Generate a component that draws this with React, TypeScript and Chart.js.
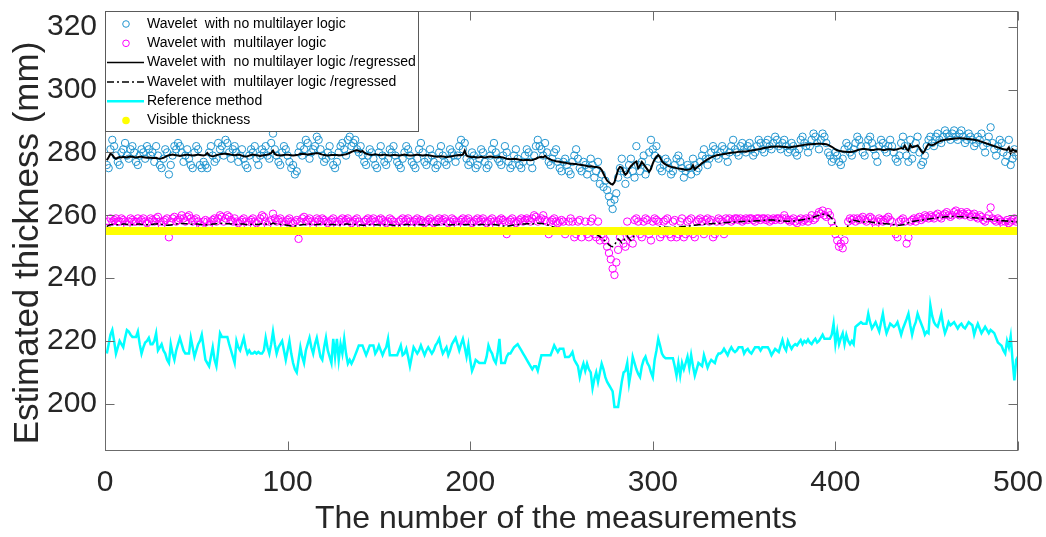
import { useEffect, useRef } from 'react';
import { Chart, registerables } from 'chart.js';

Chart.register(...registerables);

// ---- axis ticks ----
const MEASUREMENT_TICKS = [0, 100, 200, 300, 400, 500];
const THICKNESS_TICKS = [200, 220, 240, 260, 280, 300, 320];

// ---- series (thickness in mm, one value per measurement, starting at measurement 1) ----
const WAVELET_NO_MULTILAYER = [
  276, 275, 281, 284, 282, 279, 277, 276, 280, 281, 283, 279, 278, 281, 282, 280, 277, 276, 279, 281, 280, 278, 282, 281, 279,
  280, 277, 282, 279, 276, 275, 278, 281, 280, 273, 276, 279, 282, 281, 283, 282, 280, 277, 279, 281, 278, 276, 275, 280, 282,
  281, 276, 275, 277, 276, 275, 280, 282, 279, 277, 278, 283, 281, 282, 279, 284, 283, 280, 278, 281, 282, 280, 277, 279, 281,
  278, 276, 275, 279, 281, 280, 282, 278, 276, 279, 281, 280, 282, 279, 278, 283, 286, 281, 279, 277, 276, 280, 282, 281, 279,
  277, 275, 276, 273, 274, 280, 282, 279, 281, 284, 283, 278, 280, 281, 282, 285, 284, 281, 279, 277, 278, 280, 282, 279, 276,
  275, 277, 280, 282, 283, 281, 279, 284, 285, 282, 283, 284, 281, 280, 282, 279, 277, 276, 279, 281, 280, 278, 276, 275, 280,
  282, 279, 277, 276, 278, 281, 280, 282, 279, 277, 276, 275, 278, 280, 282, 281, 279, 277, 276, 275, 278, 281, 283, 280, 277,
  276, 278, 281, 279, 277, 275, 276, 280, 282, 279, 277, 276, 278, 281, 280, 279, 277, 279, 282, 284, 281, 283, 278, 276, 277,
  280, 279, 275, 276, 278, 281, 280, 277, 275, 276, 279, 281, 283, 280, 278, 277, 276, 279, 282, 280, 277, 275, 276, 279, 281,
  278, 276, 275, 277, 279, 281, 280, 277, 275, 279, 282, 284, 282, 281, 279, 283, 280, 277, 276, 278, 280, 281, 277, 275, 274,
  277, 278, 276, 274, 273, 277, 279, 281, 278, 275, 274, 277, 276, 273, 275, 278, 276, 272, 274, 277, 270, 273, 269, 271, 268,
  266, 264, 262, 265, 267, 272, 275, 278, 274, 270, 273, 276, 278, 274, 272, 282, 276, 274, 277, 279, 273, 275, 280, 284, 281,
  279, 282, 278, 275, 274, 276, 278, 277, 275, 273, 274, 276, 278, 279, 277, 275, 272, 274, 276, 275, 273, 278, 276, 274, 275,
  277, 279, 281, 278, 276, 278, 280, 282, 281, 279, 278, 280, 282, 281, 279, 277, 280, 282, 284, 281, 280, 279, 282, 283, 281,
  280, 282, 283, 281, 279, 280, 282, 284, 283, 281, 280, 283, 284, 282, 281, 283, 285, 284, 282, 281, 283, 284, 282, 280, 281,
  283, 282, 280, 279, 281, 284, 285, 283, 282, 280, 282, 284, 286, 285, 283, 281, 284, 286, 285, 283, 280, 279, 277, 278, 280,
  279, 277, 276, 278, 281, 283, 282, 280, 279, 281, 283, 285, 284, 282, 280, 279, 282, 284, 285, 283, 281, 279, 277, 282, 284,
  283, 281, 280, 282, 284, 282, 280, 278, 277, 279, 283, 285, 282, 279, 277, 284, 278, 281, 283, 285, 280, 276, 277, 279, 282,
  284, 285, 283, 282, 285, 286, 284, 283, 285, 287, 286, 285, 284, 286, 287, 285, 284, 286, 287, 285, 283, 284, 286, 285, 284,
  282, 283, 285, 284, 286, 282, 280, 283, 285, 288, 283, 281, 279, 282, 284, 283, 280, 277, 279, 284, 276, 278, 281, 279, 280,
];

const WAVELET_MULTILAYER = [
  256, 258, 259, 258, 258.5, 259, 258, 258, 259, 258.5, 258, 257, 258, 259, 258.5, 258, 258, 259, 258, 258.5, 259, 258, 257.5, 258, 259,
  258.5, 258, 259, 259.5, 258, 257, 258, 258.5, 259, 253, 258, 259, 259.5, 258, 258.5, 259, 260, 259, 258, 259.5, 260, 259, 258, 258.5, 259,
  258, 257, 256, 258, 258.5, 258, 257, 258, 258.5, 259, 258, 259, 260, 259.5, 258, 259, 260, 259.5, 258.5, 258, 259, 258, 257.5, 258, 258.5,
  259, 258, 257, 258, 258.5, 259, 258, 257.5, 258, 259, 260, 259.5, 258, 257, 258, 258.5, 260.5, 259, 258, 258.5, 259, 258, 257, 258, 258.5,
  259, 258, 257.5, 258, 258.5, 252.5, 258, 259, 259.5, 258, 258.5, 259, 258, 257, 258, 259, 258.5, 258, 259, 258.5, 258, 257.5, 258, 258.5, 259,
  258, 257, 258, 258.5, 259, 258, 258.5, 259, 258, 257.5, 258, 258.5, 259, 258, 257, 256, 258, 258.5, 259, 258, 258.5, 259, 258, 257, 258.5,
  259, 258.5, 258, 257.5, 258, 259, 258.5, 258, 257, 256, 258, 258.5, 259, 258, 258.5, 259, 258, 257, 258, 258.5, 259, 258, 258.5, 258, 257.5,
  258, 258.5, 259, 258, 257.5, 258, 258.5, 259, 258, 258.5, 259, 258, 257.5, 258, 259, 258.5, 258, 257, 258, 258.5, 259, 258, 258.5, 259, 258,
  257.5, 258, 258.5, 259, 258, 258.5, 259, 258, 257.5, 258, 258.5, 259, 258, 257, 258, 258.5, 259, 258.5, 258, 254, 258, 258.5, 259, 258, 257.5,
  258, 258.5, 259, 258, 258.5, 259, 258.5, 258, 259, 260, 259.5, 258, 258.5, 259, 260, 258.5, 258, 254, 258, 258.5, 259, 258, 257.5, 258, 258.5,
  258, 254, 255, 258, 259, 258, 253, 254, 258, 258.5, 253, 255, 258, 254, 253, 258, 259, 254, 253, 258, 252, 254, 253, 252, 250,
  248, 246, 243, 241, 245, 249, 253, 255, 251, 250, 258, 254, 253, 251, 258.5, 259, 258, 254, 253, 258, 259, 258.5, 254, 252, 258,
  259, 258.5, 258, 253, 254, 258, 258.5, 259, 254, 253, 258, 258.5, 253, 254, 258, 259, 253, 254, 258, 258.5, 259, 254, 253, 258, 258.5,
  259, 258, 254, 258.5, 259, 258, 258.5, 253, 254, 258, 259, 258.5, 258, 254, 259, 258.5, 259, 258, 258.5, 259, 259, 258.5, 259, 258, 258.5,
  259, 258.5, 259, 259, 258.5, 258, 259, 259, 258.5, 259, 259, 258.5, 259, 258, 258.5, 259, 258.5, 259, 259, 258.5, 259, 260, 259, 258.5, 258,
  258.5, 259, 258, 257.5, 258.5, 259, 258, 258.5, 259, 258, 259, 260, 258.5, 259, 260, 261, 260.5, 261.5, 260, 259.5, 261, 260, 258, 256, 254,
  252, 250, 251, 249.5, 252, 255, 258, 259, 258.5, 259, 258, 259, 258.5, 259, 259.5, 258.5, 258, 259, 259.5, 259, 258, 257, 258, 259, 258.5,
  258, 258.5, 259, 259.5, 258.5, 258, 256, 254, 253, 258, 258.5, 259, 258, 251, 253, 258, 258.5, 259, 258, 259, 259.5, 258.5, 259, 260, 259.5,
  259, 260, 259.5, 259, 260, 260.5, 259.5, 259, 260, 260.5, 261, 260, 259.5, 260, 261, 261.5, 260.5, 260, 261, 260.5, 260, 261, 260.5, 259.5, 260,
  260.5, 259.5, 259, 260, 259.5, 258.5, 258, 259, 260, 262.5, 259, 258.5, 258, 259, 258.5, 258, 257, 258, 258.5, 257.5, 258, 258.5, 259, 258, 258.5,
];

const WAVELET_NO_MULTILAYER_REGRESSED = [
  277.5, 278.5, 279.6, 279.2, 278.4, 278.0, 278.3, 278.5, 278.4, 278.6, 278.5, 278.4, 278.6, 278.7, 278.6, 278.5, 278.4, 278.5, 278.6, 278.6, 278.5, 278.4, 278.3, 278.4, 278.3,
  278.2, 278.2, 278.3, 278.1, 278.0, 278.1, 278.3, 278.6, 278.9, 279.1, 279.2, 279.3, 279.2, 279.1, 279.0, 278.9, 279.0, 279.1, 279.2, 279.3, 279.2, 279.1, 279.0, 279.1, 279.2,
  279.3, 279.2, 279.1, 279.0, 279.2, 279.8, 279.1, 278.9, 278.8, 278.9, 279.1, 279.3, 279.4, 279.5, 279.6, 279.6, 279.5, 279.4, 279.3, 279.2, 279.1, 279.2, 279.3, 279.2, 279.0,
  278.8, 278.7, 278.8, 279.0, 279.2, 279.3, 279.2, 279.1, 279.0, 278.9, 279.0, 279.1, 279.2, 279.3, 279.5, 279.8, 280.6, 279.5, 279.2, 279.1, 279.0, 279.1, 279.2, 279.3, 279.3,
  279.2, 279.1, 279.0, 279.1, 279.2, 279.3, 279.5, 279.6, 279.5, 279.4, 279.3, 279.4, 279.5, 279.6, 279.7, 279.8, 279.7, 279.5, 279.3, 279.2, 279.1, 279.0, 279.1, 279.2, 279.2,
  279.2, 279.2, 279.1, 279.1, 279.2, 279.3, 279.4, 279.6, 279.9, 280.2, 280.4, 280.6, 280.7, 280.5, 280.2, 280.5, 279.9, 279.6, 279.4, 279.3, 279.2, 279.3, 279.4, 279.3, 279.2,
  279.1, 279.2, 279.3, 279.2, 279.1, 279.0, 279.1, 279.2, 279.2, 279.1, 279.0, 279.1, 279.2, 279.3, 279.2, 279.1, 279.0, 279.0, 279.1, 279.2, 279.3, 279.2, 279.1, 279.0, 279.1,
  279.2, 279.1, 279.0, 278.9, 278.8, 278.7, 278.6, 278.7, 278.8, 278.7, 278.6, 278.5, 278.6, 278.7, 278.8, 278.9, 279.0, 279.1, 279.2, 279.1, 279.3, 280.6, 279.0, 278.7, 278.6,
  278.5, 278.6, 278.5, 278.4, 278.5, 278.6, 278.5, 278.4, 278.5, 278.6, 278.7, 278.6, 278.5, 278.4, 278.5, 278.6, 278.5, 278.4, 278.2, 278.0, 277.9, 277.8, 277.9, 278.0, 277.9,
  277.8, 277.7, 277.6, 277.5, 277.6, 277.7, 277.6, 277.5, 277.6, 277.8, 278.0, 278.3, 278.5, 278.6, 278.4, 278.9, 278.3, 278.0, 277.7, 277.5, 277.4, 277.2, 277.1, 277.0, 276.9,
  276.8, 276.7, 276.6, 276.5, 276.4, 276.4, 276.3, 276.3, 276.2, 276.1, 276.0, 275.9, 275.8, 275.7, 275.5, 275.6, 275.5, 275.4, 275.4, 275.3, 275.1, 274.4, 273.2, 272.0, 271.0,
  270.5, 270.0, 269.8, 270.5, 272.5, 274.5, 275.4, 275.2, 273.8, 272.9, 273.5, 274.8, 275.6, 276.2, 276.8, 277.1, 275.0, 275.8, 277.0, 276.2, 275.4, 274.6, 273.8, 274.8, 276.5,
  277.8, 278.6, 279.2, 278.4, 277.2, 276.6, 276.2, 275.9, 275.6, 275.4, 275.3, 275.2, 275.0, 274.9, 274.8, 274.7, 274.6, 274.5, 274.5, 274.6, 274.8, 275.9, 274.6, 275.2, 275.6,
  276.1, 276.6, 277.0, 277.4, 277.8, 278.1, 278.4, 278.7, 278.9, 279.1, 279.2, 279.3, 279.4, 279.5, 279.6, 279.7, 279.8, 279.9, 280.0, 280.0, 280.1, 280.2, 280.2, 280.3, 280.3,
  280.3, 280.4, 280.5, 280.6, 280.7, 280.8, 280.9, 281.0, 281.1, 281.3, 281.4, 281.5, 281.6, 281.7, 281.8, 281.8, 281.9, 281.9, 281.9, 281.8, 281.8, 281.7, 281.7, 281.6, 281.6,
  281.7, 281.8, 281.9, 282.0, 282.1, 282.2, 282.3, 282.4, 282.5, 282.5, 282.6, 282.6, 282.7, 282.7, 282.8, 282.8, 282.8, 282.7, 282.7, 282.6, 282.4, 282.1, 281.8, 281.4, 281.0,
  280.7, 280.5, 280.4, 280.3, 280.2, 280.2, 280.1, 280.1, 280.2, 280.3, 280.5, 280.7, 280.9, 281.0, 281.1, 281.1, 281.0, 280.9, 280.8, 280.8, 280.8, 280.9, 281.0, 281.0, 280.9,
  280.8, 280.8, 280.9, 281.0, 281.0, 280.9, 280.8, 280.9, 281.0, 281.2, 281.4, 281.2, 282.2, 281.0, 280.6, 282.4, 281.6, 281.8, 282.0, 282.2, 281.5, 280.4, 279.8, 280.6, 281.8,
  282.6, 282.4, 282.3, 282.5, 282.9, 283.2, 283.5, 283.7, 283.9, 284.0, 284.1, 284.2, 284.3, 284.3, 284.4, 284.4, 284.5, 284.5, 284.5, 284.4, 284.4, 284.3, 284.3, 284.2, 284.1,
  284.0, 283.9, 283.8, 283.6, 283.4, 283.2, 283.0, 282.8, 282.6, 282.4, 282.2, 282.0, 281.8, 281.6, 281.4, 281.2, 281.0, 280.9, 280.8, 281.6, 279.8, 281.0, 280.6, 280.4, 280.5,
];

const WAVELET_MULTILAYER_REGRESSED = [
  256.4, 256.8, 257.0, 257.1, 257.1, 257.0, 257.0, 257.1, 257.1, 257.2, 257.2, 257.1, 257.1, 257.0, 257.0, 257.1, 257.1, 257.2, 257.2, 257.1, 257.1, 257.0, 257.0, 257.0, 257.1,
  257.1, 257.2, 257.2, 257.3, 257.2, 257.1, 257.0, 256.9, 256.8, 256.8, 256.9, 257.0, 257.1, 257.2, 257.3, 257.3, 257.4, 257.4, 257.3, 257.3, 257.2, 257.2, 257.1, 257.1, 257.2,
  257.2, 257.1, 257.0, 256.9, 256.9, 257.0, 257.1, 257.1, 257.2, 257.2, 257.3, 257.4, 257.4, 257.5, 257.5, 257.4, 257.3, 257.3, 257.2, 257.2, 257.1, 257.1, 257.1, 257.2, 257.2,
  257.2, 257.1, 257.0, 257.0, 257.1, 257.2, 257.2, 257.1, 257.1, 257.2, 257.3, 257.3, 257.2, 257.1, 257.1, 257.2, 257.5, 257.3, 257.2, 257.2, 257.1, 257.0, 257.0, 256.9, 256.8,
  256.7, 256.6, 256.6, 256.6, 256.7, 256.8, 256.9, 257.0, 257.1, 257.1, 257.2, 257.2, 257.1, 257.0, 257.0, 257.1, 257.1, 257.2, 257.2, 257.1, 257.1, 257.0, 257.0, 257.1, 257.1,
  257.0, 256.9, 256.9, 257.0, 257.1, 257.1, 257.2, 257.2, 257.1, 257.0, 257.0, 257.1, 257.1, 257.0, 256.9, 256.8, 256.8, 256.9, 257.0, 257.0, 257.1, 257.1, 257.0, 257.0, 256.9,
  256.9, 257.0, 257.0, 257.1, 257.1, 257.0, 256.9, 256.8, 256.7, 256.7, 256.8, 256.9, 257.0, 257.0, 257.1, 257.1, 257.0, 256.9, 256.9, 257.0, 257.0, 257.1, 257.0, 257.0, 256.9,
  257.0, 257.0, 257.1, 257.1, 257.0, 256.9, 256.9, 257.0, 257.0, 257.1, 257.1, 257.0, 257.0, 256.9, 257.0, 257.0, 257.1, 257.1, 257.2, 257.2, 257.1, 257.0, 257.0, 257.1, 257.1,
  257.0, 256.9, 256.9, 257.0, 257.0, 257.1, 257.1, 257.0, 256.9, 256.9, 257.0, 257.1, 257.1, 257.0, 256.9, 256.8, 256.7, 256.6, 256.6, 256.5, 256.6, 256.7, 256.8, 256.9, 257.0,
  257.0, 257.1, 257.1, 257.2, 257.2, 257.3, 257.3, 257.2, 257.2, 257.3, 257.4, 257.5, 257.5, 257.4, 257.3, 257.2, 257.0, 256.8, 256.6, 256.4, 256.2, 256.0, 255.9, 255.8, 255.8,
  255.7, 255.7, 255.6, 255.6, 255.5, 255.5, 255.4, 255.4, 255.3, 255.3, 255.2, 255.1, 255.0, 254.9, 254.8, 254.6, 254.4, 254.2, 254.0, 253.6, 253.2, 252.8, 252.3, 251.8, 251.2,
  250.6, 250.2, 250.0, 250.5, 251.6, 252.5, 252.0, 251.2, 251.8, 253.0, 253.4, 252.6, 252.0, 252.8, 253.8, 254.6, 255.0, 255.3, 255.5, 255.6, 255.6, 255.5, 255.4, 255.5, 255.7,
  255.9, 256.1, 256.2, 256.3, 256.3, 256.3, 256.2, 256.2, 256.1, 256.1, 256.1, 256.2, 256.2, 256.3, 256.3, 256.4, 256.4, 256.5, 256.6, 256.6, 256.7, 256.8, 256.8, 256.9, 257.0,
  257.0, 257.1, 257.1, 257.2, 257.2, 257.3, 257.3, 257.4, 257.4, 257.5, 257.5, 257.5, 257.6, 257.6, 257.7, 257.7, 257.8, 257.8, 257.8, 257.9, 257.9, 257.9, 258.0, 258.0, 258.0,
  258.1, 258.1, 258.1, 258.2, 258.2, 258.2, 258.3, 258.3, 258.3, 258.4, 258.4, 258.4, 258.5, 258.5, 258.5, 258.5, 258.4, 258.4, 258.3, 258.3, 258.2, 258.2, 258.1, 258.1, 258.1,
  258.1, 258.2, 258.2, 258.3, 258.4, 258.5, 258.6, 258.7, 258.8, 258.9, 259.0, 259.2, 259.4, 259.6, 259.8, 260.0, 260.2, 260.3, 260.3, 260.2, 260.0, 259.6, 259.0, 258.2, 257.2,
  256.0, 254.8, 254.0, 253.8, 254.2, 255.4, 256.8, 258.0, 258.4, 258.4, 258.3, 258.2, 258.0, 257.9, 257.8, 257.9, 258.0, 258.0, 257.9, 257.8, 257.7, 257.6, 257.6, 257.5, 257.5,
  257.4, 257.3, 257.3, 257.2, 257.2, 257.1, 257.0, 256.9, 256.8, 256.8, 256.9, 257.0, 257.2, 257.4, 257.6, 257.8, 258.0, 258.1, 258.2, 258.3, 258.4, 258.4, 258.5, 258.6, 258.7,
  258.8, 258.9, 259.0, 259.1, 259.2, 259.2, 259.3, 259.4, 259.4, 259.5, 259.5, 259.5, 259.6, 259.6, 259.6, 259.6, 259.6, 259.5, 259.5, 259.5, 259.4, 259.4, 259.3, 259.3, 259.2,
  259.2, 259.1, 259.1, 259.0, 259.0, 258.9, 258.9, 258.8, 258.8, 258.7, 258.6, 258.6, 258.5, 258.4, 258.4, 258.3, 258.3, 258.2, 258.2, 258.1, 258.1, 258.0, 258.0, 257.9, 257.9,
];

const REFERENCE_METHOD = [
  216, 219, 222, 223.5, 220, 216, 218, 220, 219, 218, 221, 223.5, 223, 222, 221.3, 221.3, 221.3, 223, 219, 216, 218, 219.5, 220, 221, 219,
  219, 220, 222.5, 217, 218, 219, 217, 216, 214, 213, 219, 216, 214, 217, 219, 221, 219, 217, 216, 216, 216, 221, 218, 215, 217,
  219, 220, 222, 218, 214, 213, 212, 215, 218, 214, 212, 217, 222.5, 221.3, 221.3, 221.3, 221.3, 219, 217, 215, 213, 220, 218, 217, 219,
  221, 218, 216, 217, 216, 216, 216.5, 216, 216.5, 216, 216, 217, 221, 218, 216, 219, 223, 219, 216, 218, 219, 220, 217, 214, 217,
  220, 216, 213, 211, 210, 214, 218, 215, 213, 217, 219, 221, 218, 216, 219, 221, 218, 215, 214, 218, 221, 217, 215, 213, 220.7,
  215, 220.7, 214, 219, 216, 220.7, 216, 212.8, 214, 212.8, 214, 215.5, 217, 218.6, 218.6, 218.6, 217, 215.5, 217, 218.6, 218.6, 218.6, 216, 217, 218.6,
  217, 215.5, 217, 218, 220.7, 215.5, 215.5, 215.5, 215.5, 215.5, 217, 218.6, 215.5, 216, 217.5, 215, 212, 215, 218, 217, 216, 217, 218.6, 217, 215.5,
  217, 218, 217, 216, 217, 218.6, 219.5, 220.7, 218, 216, 217, 218, 215.5, 217, 219, 220, 221, 219, 217, 219, 220.7, 218, 215, 218.6, 214,
  210.5, 212, 214, 213.5, 213, 213, 213, 213, 215, 218.6, 217, 216, 214, 213, 216, 220.7, 213, 213, 213, 215, 216, 216, 217, 218, 218.5,
  219, 218, 217, 216, 215, 214, 213, 212, 211, 212, 212, 210.5, 213, 215.5, 215.5, 215.5, 215.5, 215.5, 215.5, 217, 218.6, 217.5, 216.5, 217.5, 217.5,
  217.5, 214.9, 214.9, 214.9, 215.5, 216.5, 214, 213, 212, 208.5, 211, 212.8, 210.5, 212.8, 211, 210, 205, 208, 210, 207, 210, 212.8, 211, 208.5, 207,
  206, 205, 204, 199, 199, 199, 203, 207, 210, 210.5, 213, 206.5, 210, 215, 213, 211, 209.5, 208.5, 212, 214, 215, 213, 212, 210, 208.5,
  214, 217, 220.7, 218.5, 216, 215, 214.5, 214.5, 214.5, 214.5, 214.5, 212, 209, 213, 209, 213, 211, 213, 215, 211.5, 215.5, 212, 209, 211, 213,
  212.5, 212, 215.5, 213.5, 211.5, 213, 214, 213.5, 213, 215, 216, 216, 216.5, 217.5, 216.5, 215.5, 217, 218, 217, 216.5, 217, 218, 218, 218, 216,
  217, 217.5, 216.5, 216, 217, 218, 218, 218, 217, 218, 218, 218, 218, 217, 215.5, 216.5, 217.5, 217, 216.5, 218.5, 220.3, 218, 217, 220, 218.6,
  217.5, 218.5, 219, 218.6, 219.5, 220.3, 219, 220, 219.5, 220.5, 219.5, 219, 220, 220.7, 219.5, 220, 221, 222, 220.7, 220.7, 220.7, 220.7, 222, 225.5, 219,
  223, 219, 221, 222.5, 219, 222, 220, 219, 220, 219, 224.5, 225, 225.5, 226, 225.5, 225.5, 225.5, 228.7, 226, 224, 225, 226, 224.5, 223, 226,
  228.7, 225, 222.5, 224, 225.5, 225, 224.5, 225, 226, 224, 222, 224, 225.5, 227, 228.7, 225, 222, 224.5, 226, 228.7, 227, 225.5, 224, 222, 223,
  222.5, 231.4, 228, 226, 225, 224.5, 226.5, 228.7, 225, 222.5, 224, 226, 225, 225.5, 226, 225, 224, 225, 225.5, 224.5, 224, 225, 226, 225.5, 225,
  222, 224, 225.5, 224, 222.5, 223.5, 224.5, 223.5, 222.5, 223.5, 223, 222.5, 221, 219.5, 219, 218.5, 217, 216, 220, 218, 221.5, 214, 207.5, 214, 215,
];

// Visible thickness is the same at every measurement.
const VISIBLE_THICKNESS_MM = 255;

// ---- look ----
const FONT = "'Liberation Sans', Arial, Helvetica, sans-serif";
const TEXT_COLOR = '#262626';
const AXIS_COLOR = '#6b6b6b';
const BLUE = 'rgb(34, 150, 208)';
const MAGENTA = 'rgb(255, 0, 255)';
const CYAN = 'rgb(0, 255, 255)';
const YELLOW = 'rgb(255, 255, 0)';
const DASH_DOT = [7, 3, 2, 3];
const MARKER_RADIUS = 3.7;

const toPoints = (values: number[]) => values.map((y, i) => ({ x: i + 1, y }));

const LEGEND_ITEMS = [
  { label: 'Wavelet  with no multilayer logic', kind: 'circle', color: BLUE },
  { label: 'Wavelet with  multilayer logic', kind: 'circle', color: MAGENTA },
  { label: 'Wavelet with  no multilayer logic /regressed', kind: 'line', color: '#000', width: 1.5 },
  { label: 'Wavelet with  multilayer logic /regressed', kind: 'dash', color: '#000', width: 1.5 },
  { label: 'Reference method', kind: 'line', color: CYAN, width: 2.5 },
  { label: 'Visible thickness', kind: 'dot', color: YELLOW },
];

// Box, inward ticks on all four sides, axis titles and the boxed legend.
const axesDecor = {
  id: 'axesDecor',
  afterDraw(chart: any) {
    const { ctx, chartArea: a, scales } = chart;
    const L = Math.round(a.left) + 0.5;
    const R = Math.round(a.right) - 0.5;
    const T = Math.round(a.top) + 0.5;
    const B = Math.round(a.bottom) - 0.5;
    const tick = 9;
    ctx.save();
    ctx.strokeStyle = AXIS_COLOR;
    ctx.lineWidth = 1;
    ctx.setLineDash([]);
    ctx.strokeRect(L, T, R - L, B - T);
    ctx.beginPath();
    for (const v of MEASUREMENT_TICKS) {
      const px = Math.round(scales.x.getPixelForValue(v)) + 0.5;
      ctx.moveTo(px, B); ctx.lineTo(px, B - tick);
      ctx.moveTo(px, T); ctx.lineTo(px, T + tick);
    }
    for (const v of THICKNESS_TICKS) {
      const py = Math.round(scales.y.getPixelForValue(v)) + 0.5;
      ctx.moveTo(L, py); ctx.lineTo(L + tick, py);
      ctx.moveTo(R, py); ctx.lineTo(R - tick, py);
    }
    ctx.stroke();

    // axis titles
    ctx.fillStyle = TEXT_COLOR;
    ctx.textAlign = 'center';
    ctx.textBaseline = 'alphabetic';
    ctx.font = `32px ${FONT}`;
    ctx.fillText('The number of the measurements', 556, 528);
    ctx.save();
    ctx.translate(38, 243);
    ctx.rotate(-Math.PI / 2);
    ctx.font = `35px ${FONT}`;
    ctx.fillText('Estimated thickness (mm)', 0, 0);
    ctx.restore();

    // legend
    const box = { x: L, y: T, w: 313, h: 120 };
    ctx.fillStyle = '#ffffff';
    ctx.fillRect(box.x, box.y, box.w, box.h);
    ctx.strokeStyle = '#5a5a5a';
    ctx.lineWidth = 1;
    ctx.strokeRect(box.x, box.y, box.w, box.h);
    ctx.font = `14px ${FONT}`;
    ctx.textAlign = 'left';
    ctx.textBaseline = 'middle';
    LEGEND_ITEMS.forEach((item: any, i: number) => {
      const cy = 24 + i * 19.3;
      if (item.kind === 'circle' || item.kind === 'dot') {
        ctx.beginPath();
        ctx.arc(126, cy, item.kind === 'dot' ? 3.8 : 3.3, 0, Math.PI * 2);
        if (item.kind === 'dot') {
          ctx.fillStyle = item.color;
          ctx.fill();
        } else {
          ctx.strokeStyle = item.color;
          ctx.lineWidth = 1;
          ctx.stroke();
        }
      } else {
        ctx.beginPath();
        ctx.strokeStyle = item.color;
        ctx.lineWidth = item.width;
        ctx.setLineDash(item.kind === 'dash' ? DASH_DOT : []);
        ctx.moveTo(107, cy);
        ctx.lineTo(144, cy);
        ctx.stroke();
        ctx.setLineDash([]);
      }
      ctx.fillStyle = '#000';
      ctx.fillText(item.label, 147, cy);
    });
    ctx.restore();
  },
};

export default function App() {
  const canvasRef = useRef<HTMLCanvasElement>(null);

  useEffect(() => {
    const lineStyle = { showLine: true, pointRadius: 0, pointHoverRadius: 0, fill: false, tension: 0 };
    const chart = new Chart(canvasRef.current as HTMLCanvasElement, {
      type: 'scatter',
      data: {
        datasets: [
          {
            label: 'Visible thickness',
            data: REFERENCE_METHOD.map((_, i) => ({ x: i + 1, y: VISIBLE_THICKNESS_MM })),
            pointRadius: 4,
            pointBackgroundColor: YELLOW,
            pointBorderWidth: 0,
            borderColor: YELLOW,
            order: 0,
          },
          {
            label: 'Reference method',
            data: toPoints(REFERENCE_METHOD),
            borderColor: CYAN,
            borderWidth: 2.5,
            ...lineStyle,
            order: 1,
          },
          {
            label: 'Wavelet with  multilayer logic /regressed',
            data: toPoints(WAVELET_MULTILAYER_REGRESSED),
            borderColor: '#000',
            borderWidth: 1.5,
            borderDash: DASH_DOT,
            ...lineStyle,
            order: 2,
          },
          {
            label: 'Wavelet with  no multilayer logic /regressed',
            data: toPoints(WAVELET_NO_MULTILAYER_REGRESSED),
            borderColor: '#000',
            borderWidth: 2,
            ...lineStyle,
            order: 3,
          },
          {
            label: 'Wavelet with  multilayer logic',
            data: toPoints(WAVELET_MULTILAYER),
            pointRadius: MARKER_RADIUS,
            pointBorderWidth: 1,
            pointBorderColor: MAGENTA,
            pointBackgroundColor: 'rgba(0,0,0,0)',
            borderColor: MAGENTA,
            order: 4,
          },
          {
            label: 'Wavelet  with no multilayer logic',
            data: toPoints(WAVELET_NO_MULTILAYER),
            pointRadius: MARKER_RADIUS,
            pointBorderWidth: 1,
            pointBorderColor: BLUE,
            pointBackgroundColor: 'rgba(0,0,0,0)',
            borderColor: BLUE,
            order: 5,
          },
        ] as any,
      },
      options: {
        animation: false,
        responsive: false,
        devicePixelRatio: 1,
        events: [],
        layout: { padding: { top: 11, right: 28, left: 0, bottom: 0 } },
        plugins: { legend: { display: false }, tooltip: { enabled: false }, title: { display: false } },
        scales: {
          x: {
            type: 'linear',
            min: 0,
            max: 500,
            grid: { display: false, drawTicks: false },
            border: { display: false },
            ticks: { font: { family: FONT, size: 30 }, color: TEXT_COLOR, padding: 14, maxRotation: 0, autoSkip: false },
            afterBuildTicks: (s: any) => { s.ticks = MEASUREMENT_TICKS.map((v) => ({ value: v })); },
            afterFit: (s: any) => { s.height = 86; s.paddingLeft = 0; s.paddingRight = 0; },
          },
          y: {
            type: 'linear',
            min: 185,
            max: 325,
            grid: { display: false, drawTicks: false },
            border: { display: false },
            ticks: { font: { family: FONT, size: 30 }, color: TEXT_COLOR, padding: 8, autoSkip: false },
            afterBuildTicks: (s: any) => { s.ticks = THICKNESS_TICKS.map((v) => ({ value: v })); },
            afterFit: (s: any) => { s.width = 105; s.paddingTop = 0; s.paddingBottom = 0; },
          },
        },
      } as any,
      plugins: [axesDecor],
    });
    return () => chart.destroy();
  }, []);

  return (
    <div style={{ position: 'absolute', left: 0, top: 0, width: 1046, height: 537, background: '#ffffff' }}>
      <canvas ref={canvasRef} width={1046} height={537} style={{ display: 'block' }} />
    </div>
  );
}
